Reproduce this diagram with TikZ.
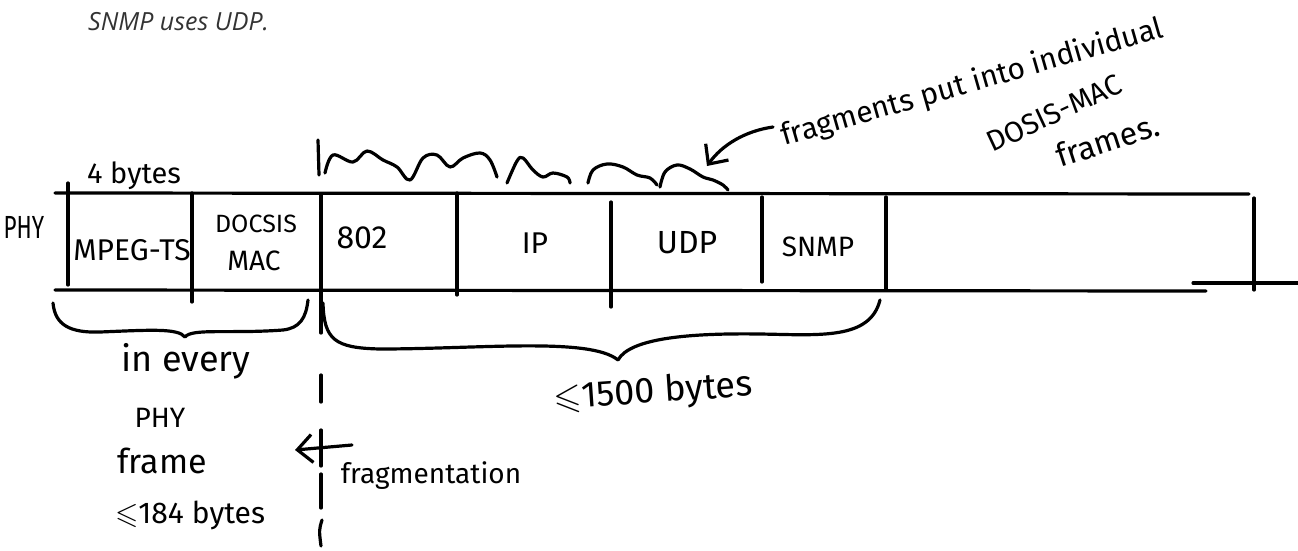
\documentclass[tikz,border=0pt]{standalone}
\usepackage{fontspec}
\usepackage{amssymb}
\setmainfont{Open Sans}
\newfontfamily\hand{Fira Sans}
\usetikzlibrary{arrows.meta}

\begin{document}
\begin{tikzpicture}[x=1pt, y=-1pt,
  ink/.style={line width=3.2pt, line cap=round, line join=round},
  hw/.style={font=\hand\fontsize{#1}{#1}\selectfont, inner sep=0pt},
  heading/.style={font=\itshape\fontsize{25}{28}\selectfont, text=black!80, inner sep=0pt},
  barb/.style={ink, -{Straight Barb[length=15pt, width=28pt, line width=3.2pt]}}]
\useasboundingbox (0,0) rectangle (1298,551);

% heading
\node[heading, anchor=base west] (title) at (88,31) {SNMP uses UDP.};

% frame outline
\draw[ink] (55,193) -- (1249,194);
\draw[ink] (55,290) -- (1206,291);
\draw[ink] (1193,283) -- (1298,283);
\draw[ink] (1254,198) -- (1254,290);

% field separators
\draw[ink] (68,183) -- (68,285);
\draw[ink] (192,193) -- (192,302);
\draw[ink] (321,195) -- (321,333);
\draw[ink] (457,193) -- (457,295);
\draw[ink] (611,202) -- (611,307);
\draw[ink] (762,197) -- (762,282);
\draw[ink] (886,197) -- (886,290);

% fragmentation boundary (dashed continuation)
\draw[ink] (321,375) -- (321,402);
\draw[ink] (321,430) -- (321,466);
\draw[ink] (321,474) -- (321,508);
\draw[ink] (322,520) .. controls (319,530) .. (321,546);

% field labels
\node[hw=32, xscale=0.7] (phy) at (24,227) {PHY};
\node[hw=30] (mpeg) at (132,250) {MPEG-TS};
\node[hw=25] (docsis) at (256,224) {DOCSIS};
\node[hw=28] (mac) at (254,261) {MAC};
\node[hw=32] (f802) at (362,238) {802};
\node[hw=30] (ip) at (535,243) {IP};
\node[hw=32] (udp) at (687,243) {UDP};
\node[hw=28] (snmp) at (818,247) {SNMP};
\node[hw=29, anchor=base] (four) at (134,183) {4 bytes};

% fragments sketched above the payload
\draw[ink] (318,140) -- (319,175);
\draw[ink] plot[smooth, tension=0.6] coordinates {(325,173) (333,155) (353,162) (367,151) (383,160) (397,167) (410,180) (423,158) (437,155) (450,167) (463,158) (480,153) (490,160) (497,177)};
\draw[ink] plot[smooth, tension=0.6] coordinates {(507,183) (517,161) (523,158) (533,170) (543,177) (553,173) (567,177) (570,183)};
\draw[ink] plot[smooth, tension=0.6] coordinates {(588,183) (593,170) (607,164) (623,167) (637,175) (650,178) (657,185)};
\draw[ink] plot[smooth, tension=0.6] coordinates {(660,187) (665,172) (677,165) (690,169) (703,177) (713,180) (723,185) (728,190)};

% note about fragments
\coordinate (noteStart) at (773,127);
\coordinate (noteTip) at (707,166);
\draw[barb] (noteStart) .. controls (745,131) and (722,145) .. (noteTip);
\node[hw=30, rotate=16, anchor=base west] (note1) at (784,146) {fragments put into individual};
\node[hw=29, rotate=25, anchor=base west] (note2) at (992,153) {DOSIS-MAC};
\node[hw=32, rotate=18, anchor=base west] (note3) at (1060,168) {frames.};

% brace under the per-frame headers
\draw[ink] (53,303) .. controls (55,325) and (70,333) .. (100,332)
  .. controls (150,330) and (178,328) .. (185,337)
  .. controls (192,328) and (230,334) .. (283,330)
  .. controls (300,328) and (306,318) .. (308,300);

% brace under the payload
\draw[ink] (323,303) .. controls (324,340) and (335,348) .. (380,349)
  .. controls (480,349) and (590,337) .. (618,360)
  .. controls (630,338) and (690,333) .. (760,334)
  .. controls (820,335) and (870,340) .. (880,300);

% labels below
\node[hw=36] (every) at (186,361) {in every};
\node[hw=28] (phy2) at (160,418) {PHY};
\node[hw=34] (frame) at (162,461) {frame};
\node[hw=30] (lim184) at (190,515) {$\leqslant$184 bytes};
\node[hw=36, rotate=4] (lim1500) at (653,393) {$\leqslant$1500 bytes};

% fragmentation marker
\coordinate (fragFrom) at (352,445);
\coordinate (fragTo) at (295,450);
\draw[barb] (fragFrom) -- (fragTo);
\node[hw=28] (frag) at (431,476) {fragmentation};
\end{tikzpicture}
\end{document}
